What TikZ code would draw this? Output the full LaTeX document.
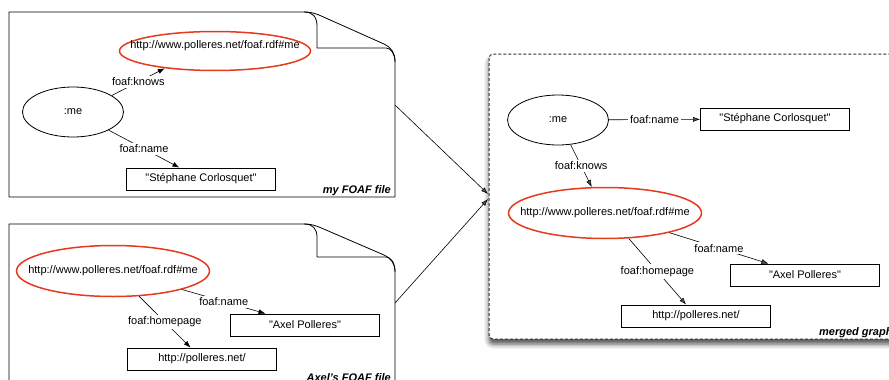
\documentclass[tikz,border=0pt]{standalone}
\usepackage{fontspec}
\setmainfont{Liberation Sans}
\usetikzlibrary{arrows.meta, positioning, shapes, shadows.blur}
\definecolor{urired}{HTML}{E6391E}
\definecolor{framegray}{HTML}{2E2E2E}

\begin{document}
\begin{tikzpicture}[x=1pt, y=-1pt,
    font=\fontsize{11pt}{13pt}\selectfont,
    res/.style={ellipse, draw=black, line width=0.8pt, minimum width=101pt, minimum height=50pt, inner sep=0pt},
    uri/.style={ellipse, draw=urired, line width=1.5pt, minimum width=193pt, minimum height=51pt, inner sep=0pt},
    lit/.style={rectangle, draw=black, line width=0.8pt, minimum width=149pt, minimum height=22pt, inner sep=0pt},
    prop/.style={fill=white, inner sep=2pt},
    arc/.style={-{Latex[length=7pt,width=5pt]}, line width=0.6pt},
    doc/.style={line width=0.8pt, line join=round},
    filelabel/.style={font=\fontsize{11pt}{13pt}\selectfont\bfseries\itshape, inner sep=0pt, anchor=base east}]
    \useasboundingbox (0,0) rectangle (889,380);
    \clip (0,0) rectangle (889,380);

    % my FOAF file
    \draw[doc] (9,12) -- (304,12) .. controls (311,12) and (313,13) .. (319,15) -- (384,44) .. controls (392,48) and (395,53) .. (395,62) -- (395,197) -- (9,197) -- cycle;
    \draw[doc] (304,12) .. controls (313,12) and (317,17) .. (317,26) -- (317,48) -- (386,48) .. controls (391,48) and (395,54) .. (395,62);
    \node[filelabel] (myfile) at (391,193) {my FOAF file};

    \node[res] (me1) at (73,112) {:me};
    \node[uri, minimum width=191pt, minimum height=39pt, label={[yshift=5pt]center:http://www.polleres.net/foaf.rdf\#me}] (uri1) at (215,51) {};
    \node[lit] (name1) at (201,179) {\textquotedbl Stéphane Corlosquet\textquotedbl};
    \draw[arc] (me1.23) -- node[prop] {foaf:knows} (uri1.199);
    \draw[arc] (me1.-27) -- node[prop] {foaf:name} (name1);

    % Axel's FOAF file
    \draw[doc] (9,224) -- (304,224) .. controls (311,224) and (313,225) .. (319,227) -- (384,255) .. controls (392,259) and (395,264) .. (395,272) -- (395,390) -- (9,390) -- cycle;
    \draw[doc] (304,224) .. controls (313,224) and (317,229) .. (317,237) -- (317,257) -- (386,257) .. controls (391,257) and (395,263) .. (395,272);
    \node[filelabel] (axelfile) at (391,381) {Axel's FOAF file};

    \node[uri, label=center:http://www.polleres.net/foaf.rdf\#me] (uri2) at (113,271) {};
    \node[lit] (aname2) at (305,325) {\textquotedbl Axel Polleres\textquotedbl};
    \node[lit] (home2) at (202,359) {http://polleres.net/};
    \draw[arc] (uri2.-15) -- node[prop] {foaf:name} (aname2);
    \draw[arc] (uri2.-44) -- node[prop] {foaf:homepage} (home2);

    % merged graph
    \draw[dash pattern=on 3pt off 2pt, draw=framegray, line width=1pt, fill=white, rounded corners=4pt,
        blur shadow={shadow xshift=0pt, shadow yshift=-5pt, shadow blur radius=5pt, shadow opacity=70}] (489,54) rectangle (905,339);
    \node[filelabel, anchor=base west] (mergedlabel) at (819,335) {merged graph};

    \node[res] (me3) at (558,120) {:me};
    \node[lit] (sname3) at (775,119) {\textquotedbl Stéphane Corlosquet\textquotedbl};
    \node[uri, label=center:http://www.polleres.net/foaf.rdf\#me] (uri3) at (605,213) {};
    \node[lit] (aname3) at (805,275) {\textquotedbl Axel Polleres\textquotedbl};
    \node[lit] (home3) at (696,316) {http://polleres.net/};
    \draw[arc] (me3) -- node[prop] {foaf:name} (sname3);
    \draw[arc] (me3.-63) -- node[prop] {foaf:knows} (uri3.117);
    \draw[arc] (uri3.-17) -- node[prop] {foaf:name} (aname3);
    \draw[arc] (uri3.-47) -- node[prop] {foaf:homepage} (home3);

    % files into merged graph
    \coordinate (out1) at (395,105);
    \coordinate (out2) at (395,303);
    \coordinate (in1) at (488,194);
    \coordinate (in2) at (488,199);
    \draw[arc] (out1) -- (in1);
    \draw[arc] (out2) -- (in2);
\end{tikzpicture}
\end{document}
